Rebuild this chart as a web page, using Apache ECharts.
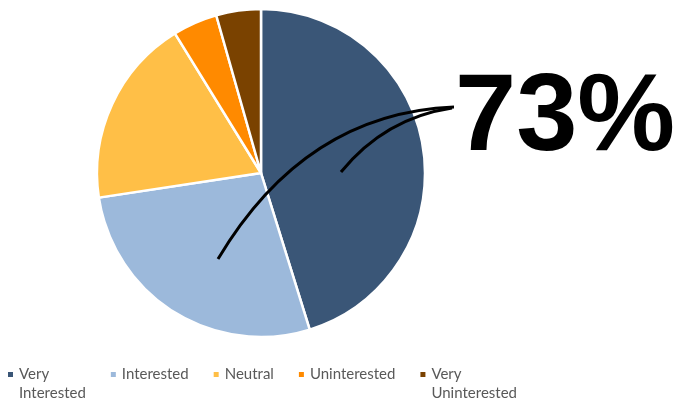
<!DOCTYPE html>
<html><head><meta charset="utf-8">
<script src="https://cdn.jsdelivr.net/npm/echarts@6/dist/echarts.min.js"></script>
<style>html,body{margin:0;padding:0;background:#fff}#c{width:676px;height:402px}</style>
</head><body><div id="c"></div>
<script>
const categories = ['Very Interested','Interested','Neutral','Uninterested','Very Uninterested'];
const legendLabels = ['\u00a0\nVery\nInterested','\u00a0\nInterested\n\u00a0','\u00a0\nNeutral\n\u00a0','\u00a0\nUninterested\n\u00a0','\u00a0\nVery\nUninterested'];
const values = [45.2, 27.4, 18.6, 4.4, 4.4];
const colors = ['#3A5677','#9CB9DB','#FFBF47','#FF8A00','#7A4200'];
const headline = '73%';

const chart = echarts.init(document.getElementById('c'));
chart.setOption({
  animation: false,
  color: colors,
  legend: {
    left: 1, top: 341, orient: 'horizontal',
    itemWidth: 7, itemHeight: 7, itemGap: 23,
    icon: 'rect',
    data: categories,
    formatter: n => legendLabels[categories.indexOf(n)],
    textStyle: { color: '#595959', fontFamily: 'Lato', fontSize: 15, lineHeight: 19 },
    align: 'left'
  },
  series: [{
    type: 'pie',
    center: [261, 173],
    radius: 164,
    startAngle: 90,
    clockwise: true,
    label: { show: false },
    labelLine: { show: false },
    itemStyle: { borderColor: '#fff', borderWidth: 2.5 },
    data: categories.map((c, i) => ({ name: c, value: values[i] }))
  }],
  graphic: [
    { type: 'bezierCurve', shape: { x1: 218, y1: 259, cpx1: 305, cpy1: 113, x2: 454, y2: 107 },
      style: { stroke: '#000', lineWidth: 3, fill: null }, z: 100 },
    { type: 'bezierCurve', shape: { x1: 341, y1: 172, cpx1: 385, cpy1: 118, x2: 452, y2: 108 },
      style: { stroke: '#000', lineWidth: 3, fill: null }, z: 100 },
    { type: 'text', left: 455, top: 65,
      style: { text: headline, fontFamily: 'Liberation Sans', fontWeight: 'bold', fontSize: 110, fill: '#000' }, z: 100 }
  ]
});
</script></body></html>
